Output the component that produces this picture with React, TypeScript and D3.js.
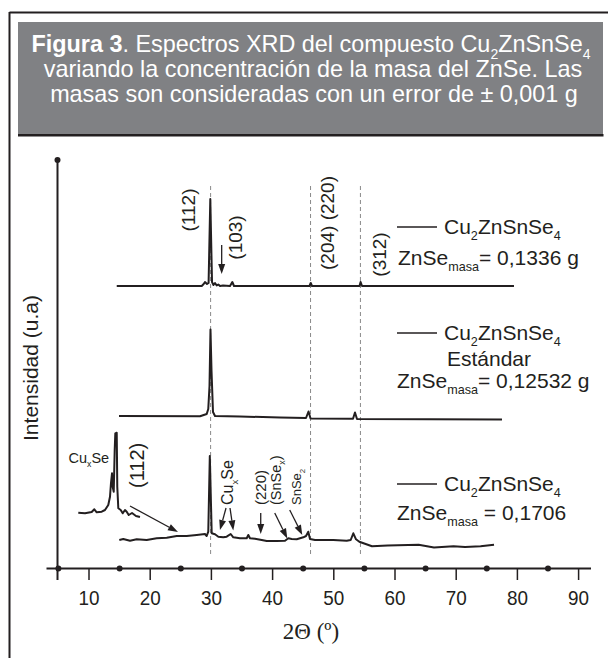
import React from "react";
import * as d3 from "d3";

// 2θ ticks and the dots between them
const tickValues = [10, 20, 30, 40, 50, 60, 70, 80, 90];
const dotValues = [5, 15, 25, 35, 45, 55, 65, 75, 85];

// vertical offsets of each pattern (a.u.)
const offsets = [282, 152, 28];

// pattern with ZnSe = 0,1336 g  [2θ, intensity]
const serieTop: [number, number][] = [
  [14.53, 0], [28.42, 0], [28.74, 2], [28.95, 4], [29.28, 2], [29.54, 3],
  [29.82, 87], [30.1, 4], [30.34, 1], [30.59, 3], [30.87, 0.5], [31.13, 1.5],
  [31.41, 0], [31.9, 0.5], [33.04, 0], [33.42, 4], [33.69, 0], [46.03, 0],
  [46.23, 3], [46.44, 0], [54.2, 0], [54.38, 4], [54.61, 0], [79.44, 0],
];

// standard pattern, ZnSe = 0,12532 g
const serieMid: [number, number][] = [
  [14.9, 0], [28.14, -0.3], [29.23, 2], [29.49, 7], [29.69, 30], [29.85, 86.5],
  [30.02, 45], [30.26, 4], [30.59, 0], [34.67, -0.5], [41.21, -1.5], [45.46, -2],
  [45.87, 4.5], [46.2, -2.5], [53.14, -2.8], [53.46, 3.5], [53.79, -3], [77.48, -3.5],
];

// ZnSe = 0,1706
const serieLow: [number, number][] = [
  [14.95, 0], [15.6, 1], [16.7, -0.7], [17.79, 0.7], [19.43, 0], [21.06, 1.7],
  [22.7, 2.3], [24.33, 4], [25.96, 4], [27.6, 5], [28.95, 6], [29.23, 4],
  [29.49, 8.3], [29.74, 84], [30.05, 6.7], [30.59, 5.7], [31.13, 3.3], [31.94, 2.7],
  [32.5, 3.3], [33.15, 6], [33.58, 2.7], [34.67, 1.7], [35.77, 1.7], [36.03, 5],
  [36.31, 1.7], [37.12, 1.3], [38.22, 0], [39.04, -1], [40.67, -1], [42.03, -0.7],
  [42.57, 1.7], [43.12, 1], [43.94, 0.7], [45.02, 2.7], [45.46, 4], [45.83, 8.3],
  [46.11, 1], [46.93, 0], [49.92, 0], [52.11, -0.7], [52.76, 0], [53.19, 6.7],
  [53.63, 0.7], [54.17, -1.7], [56.24, -6.3], [58.79, -5.5], [63.86, -4.7], [66.37, -7.4],
  [69.56, -6.3], [71.44, -7], [73.99, -6.3], [76.18, -4.7],
];

// low-angle CuxSe part of the same pattern
const serieCuxSe: [number, number][] = [
  [8.25, 27.3], [9.35, 26.7], [10.44, 28], [10.87, 30.7], [11.26, 27.7], [12.08, 28.3],
  [12.61, 30], [13.15, 35], [13.43, 43.3], [13.59, 56.7], [13.76, 66.7], [13.87, 53.3],
  [14.04, 48.3], [14.2, 90], [14.3, 106.7], [14.53, 107.3], [14.62, 53.3], [14.79, 31.7],
  [15.18, 30], [15.51, 26.7], [15.88, 30], [16.16, 28.3], [16.49, 25], [17.03, 27],
  [17.68, 24], [18.33, 23],
];

// reference planes (dashed)
const planes = [29.87, 46.2, 54.35];

// arrows [2θ from, I from, 2θ to, I to]
const arrows = [
  [31.68, 323, 31.68, 294],
  [16.7, 62, 24.54, 36],
  [32.39, 60, 31.4, 38],
  [33.04, 60, 33.58, 37.5],
  [38.06, 55, 38.06, 34],
  [40.35, 55, 42.4, 29.5],
  [42.8, 58, 44.85, 33],
];

const FONT = "'Liberation Sans', Arial, Helvetica, sans-serif";
const INK = "#231f20";

type Part = { t: string; sub?: boolean; bold?: boolean };

function Rich({ x, y, parts, fs, anchor = "start", fill = INK, rotate = 0 }: any) {
  let shifted = false;
  const d = fs * 0.28;
  return (
    <text
      x={x}
      y={y}
      fontSize={fs}
      fontFamily={FONT}
      fill={fill}
      textAnchor={anchor}
      transform={rotate ? `rotate(${rotate},${x},${y})` : undefined}
    >
      {(parts as Part[]).map((p, i) => {
        let dy = 0;
        if (p.sub && !shifted) { dy = d; shifted = true; }
        else if (!p.sub && shifted) { dy = -d; shifted = false; }
        return (
          <tspan key={i} dy={dy || undefined} fontSize={p.sub ? fs * 0.6 : fs} fontWeight={p.bold ? "bold" : undefined}>
            {p.t}
          </tspan>
        );
      })}
    </text>
  );
}

const czts: Part[] = [{ t: "Cu" }, { t: "2", sub: true }, { t: "ZnSnSe" }, { t: "4", sub: true }];
const masa = (v: string): Part[] => [{ t: "ZnSe" }, { t: "masa", sub: true }, { t: v }];

export default function App() {
  const W = 608, H = 658;
  const x = d3.scaleLinear().domain([5, 90]).range([58.4, 578.6]);
  const y = d3.scaleLinear().domain([0, 408]).range([568, 160]);

  const line = (off: number) =>
    d3.line<[number, number]>().x((d) => x(d[0])).y((d) => y(d[1] + off));

  const legendX = 397;
  const rot = (px: number, py: number) => `rotate(-90,${px},${py})`;

  return (
    <div style={{ position: "absolute", left: 0, top: 0 }}>
      <svg width={W} height={H} style={{ display: "block", background: "#fff" }}>
        {/* frame and header */}
        <line x1={9.5} y1={12.5} x2={W} y2={12.5} stroke={INK} strokeWidth={2} />
        <line x1={9.5} y1={12} x2={9.5} y2={H} stroke={INK} strokeWidth={2} />
        <rect x={18} y={22} width={585} height={113} fill="#808184" />
        <line x1={18} y1={135.3} x2={603.5} y2={135.3} stroke={INK} strokeWidth={2.5} />
        <Rich
          x={311}
          y={52}
          fs={23.4}
          fill="#fff"
          anchor="middle"
          parts={[
            { t: "Figura 3", bold: true },
            { t: ". Espectros XRD del compuesto Cu" },
            { t: "2", sub: true },
            { t: "ZnSnSe" },
            { t: "4", sub: true },
          ]}
        />
        <text x={313} y={77} fontSize={23.4} fontFamily={FONT} fill="#fff" textAnchor="middle">
          variando la concentración de la masa del ZnSe. Las
        </text>
        <text x={314} y={101.5} fontSize={23.4} fontFamily={FONT} fill="#fff" textAnchor="middle">
          masas son consideradas con un error de ± 0,001 g
        </text>

        {/* reference planes */}
        {planes.map((p) => (
          <line key={p} x1={x(p)} x2={x(p)} y1={y(382)} y2={y(13)} stroke="#8a8a8a" strokeWidth={1} strokeDasharray="4,3" />
        ))}

        {/* axes */}
        <line x1={57.5} x2={57.5} y1={y(408)} y2={580} stroke={INK} strokeWidth={2} />
        <circle cx={57.5} cy={y(408)} r={3} fill={INK} />
        <line x1={46.5} x2={591} y1={568.5} y2={568.5} stroke={INK} strokeWidth={2} />
        {tickValues.map((t) => (
          <g key={t}>
            <line x1={x(t)} x2={x(t)} y1={568.5} y2={580} stroke={INK} strokeWidth={1.5} />
            <text
              transform={`translate(${x(t)},605) scale(0.9,1)`}
              fontSize={21}
              fontFamily={FONT}
              fill={INK}
              textAnchor="middle"
            >
              {t}
            </text>
          </g>
        ))}
        {dotValues.map((t) => (
          <circle key={t} cx={x(t)} cy={568.5} r={3} fill={INK} />
        ))}
        <text x={311} y={639} fontSize={23} fontFamily="'Liberation Serif', 'Times New Roman', serif" fill={INK} textAnchor="middle">
          2Θ (º)
        </text>
        <text
          x={30}
          y={368}
          fontSize={21}
          fontFamily={FONT}
          fill={INK}
          textAnchor="middle"
          dominantBaseline="central"
          transform={rot(30, 368)}
        >
          Intensidad (u.a)
        </text>

        {/* patterns */}
        <g fill="none" stroke={INK} strokeWidth={2} strokeLinejoin="round">
          <path d={line(offsets[0])(serieTop) || ""} />
          <path d={line(offsets[1])(serieMid) || ""} />
          <path d={line(offsets[2])(serieLow) || ""} />
          <path d={line(offsets[2])(serieCuxSe) || ""} />
        </g>

        {/* arrows */}
        {arrows.map((a, i) => {
          const x1 = x(a[0]), y1 = y(a[1]), x2 = x(a[2]), y2 = y(a[3]);
          const ang = Math.atan2(y2 - y1, x2 - x1);
          const L = 10, hw = 3.5;
          const bx = x2 - L * Math.cos(ang), by = y2 - L * Math.sin(ang);
          const px = -Math.sin(ang) * hw, py = Math.cos(ang) * hw;
          return (
            <g key={i}>
              <line x1={x1} y1={y1} x2={bx} y2={by} stroke={INK} strokeWidth={1.3} />
              <path d={`M${x2},${y2}L${bx + px},${by + py}L${bx - px},${by - py}Z`} fill={INK} />
            </g>
          );
        })}

        {/* peak labels */}
        <g fontFamily={FONT} fill={INK} dominantBaseline="central">
          <text x={x(26.18)} y={y(358)} fontSize={19} textAnchor="middle" transform={rot(x(26.18), y(358))}>(112)</text>
          <text x={x(33.86)} y={y(330.5)} fontSize={19} textAnchor="middle" transform={rot(x(33.86), y(330.5))}>(103)</text>
          <text x={x(48.89)} y={y(345)} fontSize={19} textAnchor="middle" transform={rot(x(48.89), y(345))}>(204) (220)</text>
          <text x={x(57.47)} y={y(313.5)} fontSize={19} textAnchor="middle" transform={rot(x(57.47), y(313.5))}>(312)</text>
          <text x={x(17.84)} y={y(80)} fontSize={20} transform={rot(x(17.84), y(80))}>(112)</text>
          <text x={x(38.06)} y={y(63)} fontSize={15} transform={rot(x(38.06), y(63))}>(220)</text>
        </g>
        <Rich x={x(6.65)} y={y(105)} fs={14.5} parts={[{ t: "Cu" }, { t: "x", sub: true }, { t: "Se" }]} />
        <Rich x={x(32.71) + 5.5} y={y(63)} fs={16} rotate={-90} parts={[{ t: "Cu" }, { t: "x", sub: true }, { t: "Se" }]} />
        <Rich x={x(40.56) + 5} y={y(63)} fs={14.5} rotate={-90} parts={[{ t: "(SnSe" }, { t: "x", sub: true }, { t: ")" }]} />
        <Rich x={x(43.94) + 4.5} y={y(63)} fs={13} rotate={-90} parts={[{ t: "SnSe" }, { t: "2", sub: true }]} />

        {/* legends */}
        {[227, 333, 484].map((ly) => (
          <line key={ly} x1={legendX} x2={legendX + 40} y1={ly} y2={ly} stroke={INK} strokeWidth={1.5} />
        ))}
        <Rich x={444} y={234} fs={21} parts={czts} />
        <Rich x={398} y={265} fs={21} parts={masa("= 0,1336 g")} />
        <Rich x={444} y={340} fs={21} parts={czts} />
        <text x={489} y={366} fontSize={21} fontFamily={FONT} fill={INK} textAnchor="middle">Estándar</text>
        <Rich x={397} y={388} fs={21} parts={masa("= 0,12532 g")} />
        <Rich x={444} y={491} fs={21} parts={czts} />
        <Rich x={397} y={520} fs={21} parts={masa(" = 0,1706")} />
      </svg>
    </div>
  );
}
